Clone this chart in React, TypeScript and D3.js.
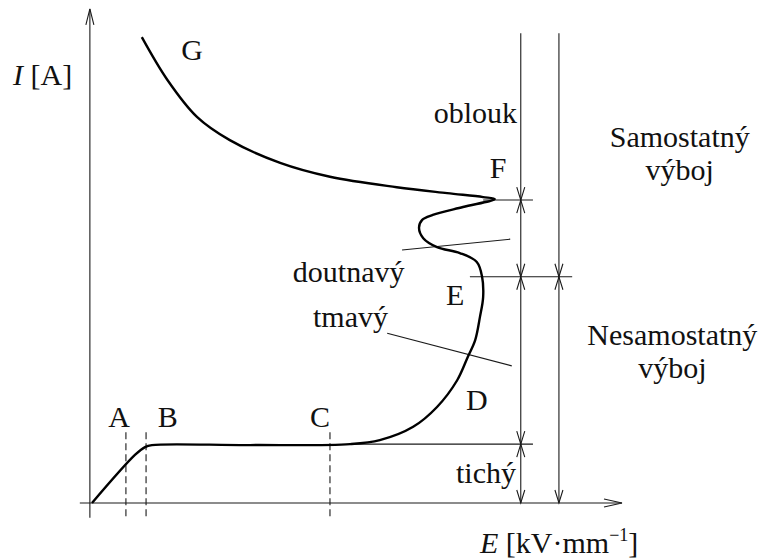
import React from "react";
import * as d3 from "d3";

// Volt-ampere characteristic of a gas discharge (schematic)
const W = 761;
const H = 559;

// Characteristic curve: field strength E and current I (relative units 0–100)
const curveE = [0, 8.1, 10.0, 11.3, 29.8, 48.7, 54.3, 60.6, 65.1, 68.9, 70.9, 72.3, 73.2, 73.8, 73.6, 72.6, 69.4, 65.1, 62.5, 61.7, 62.3, 64.3, 70.0, 76.0, 73.8, 67.0, 57.5, 44.9, 35.5, 26.0, 19.8, 14.2, 9.4];
const curveI = [0, 9.7, 11.3, 11.7, 11.7, 11.9, 12.7, 15.4, 19.4, 24.8, 29.5, 32.9, 37.6, 41.6, 45.7, 48.7, 50.5, 51.7, 53.5, 55.6, 57.2, 58.2, 59.8, 61.4, 61.8, 62.6, 63.8, 65.9, 68.7, 73.3, 78.0, 85.5, 94.1];

// Dashed markers A, B, C
const markerNames = ["A", "B", "C"];
const markerE = [6.4, 10.2, 44.9];
const markerLabelE = [5.1, 14.3, 43.0];
const markerTop = 14.3;
const markerBottom = -3.0;

// Region boundaries (current levels) and the dimension lines
const levelF = 61.2;
const levelE = 45.7;
const levelTichy = 11.9;
const dimTop = 94.9;
const dimInnerE = 80.9;
const dimOuterE = 88.1;

// Point labels
const pointNames = ["G", "F", "E", "D"];
const pointE = [18.9, 76.6, 68.5, 72.6];
const pointI = [89.5, 65.7, 40.0, 18.8];

// Region labels
const regionNames = ["oblouk", "doutnavý", "tmavý", "tichý"];
const regionE = [80.2, 37.9, 41.7, 80.0];
const regionI = [76.8, 44.6, 35.6, 4.0];
const regionAnchor = ["end", "start", "start", "end"];

// Group labels on the right
const groupLines = [["Samostatný", "výboj"], ["Nesamostatný", "výboj"]];
const groupE = [110.9, 109.5];
const groupI = [[71.9, 65.3], [31.9, 25.3]];

// Leader lines for doutnavý / tmavý
const leaderFrom = [[58.5, 51.1], [55.7, 34.3]];
const leaderTo = [[78.9, 53.3], [79.2, 27.7]];

const x = d3.scaleLinear().domain([0, 100]).range([92, 622]);
const y = d3.scaleLinear().domain([0, 100]).range([503, 8]);

const FONT = "Liberation Serif, DejaVu Serif, Times New Roman, serif";
const INK = "#1a1a1a";

function arrowHead(tx: number, ty: number, dx: number, dy: number, len = 13, half = 4) {
  const px = -dy;
  const py = dx;
  const bx = tx - dx * len;
  const by = ty - dy * len;
  return `M${bx + px * half},${by + py * half}L${tx},${ty}L${bx - px * half},${by - py * half}`;
}

export default function App() {
  const pts: [number, number][] = curveE.map((e, i) => [x(e), y(curveI[i])]);
  const line = d3.line().curve(d3.curveCatmullRom.alpha(0.5));
  const curvePath = line(pts) || "";

  const thin = { stroke: INK, strokeWidth: 1.1, fill: "none" } as const;
  const heads: string[] = [];
  // inner dimension line: boundaries F, E, tichý, plus bottom
  [levelF, levelE, levelTichy].forEach((lv) => {
    heads.push(arrowHead(x(dimInnerE), y(lv), 0, 1));
    heads.push(arrowHead(x(dimInnerE), y(lv), 0, -1));
  });
  heads.push(arrowHead(x(dimInnerE), y(0), 0, 1));
  // outer dimension line: boundary E plus bottom
  heads.push(arrowHead(x(dimOuterE), y(levelE), 0, 1));
  heads.push(arrowHead(x(dimOuterE), y(levelE), 0, -1));
  heads.push(arrowHead(x(dimOuterE), y(0), 0, 1));
  // axis arrows
  heads.push(arrowHead(x(-0.4), y(99.8), 0, -1, 16, 4));
  heads.push(arrowHead(x(100), y(0), 1, 0, 18, 4));

  const txt = { fontFamily: FONT, fontSize: 30, fill: "#111" } as const;

  return (
    <svg width={W} height={H} style={{ position: "absolute", left: 0, top: 0, background: "#fff" }}>
      <rect width={W} height={H} fill="#fff" />
      {/* axes */}
      <line x1={x(-0.4)} y1={y(-3)} x2={x(-0.4)} y2={y(99.8)} {...thin} />
      <line x1={x(-2.3)} y1={y(0)} x2={x(100)} y2={y(0)} {...thin} />

      {/* dashed markers */}
      {markerE.map((e, i) => (
        <line key={"m" + i} x1={x(e)} y1={y(markerTop)} x2={x(e)} y2={y(markerBottom)}
          stroke={INK} strokeWidth={1.1} strokeDasharray="7 4" />
      ))}

      {/* boundary lines */}
      <line x1={x(48.7)} y1={y(levelTichy)} x2={x(83.2)} y2={y(levelTichy)} {...thin} />
      <line x1={x(73.8)} y1={y(levelF)} x2={x(83.2)} y2={y(levelF)} {...thin} />
      <line x1={x(71.3)} y1={y(levelE)} x2={x(90.6)} y2={y(levelE)} {...thin} />

      {/* dimension lines */}
      <line x1={x(dimInnerE)} y1={y(dimTop)} x2={x(dimInnerE)} y2={y(0)} {...thin} />
      <line x1={x(dimOuterE)} y1={y(dimTop)} x2={x(dimOuterE)} y2={y(0)} {...thin} />
      {heads.map((d, i) => (
        <path key={"h" + i} d={d} {...thin} />
      ))}

      {/* leader lines */}
      {leaderFrom.map((f, i) => (
        <line key={"l" + i} x1={x(f[0])} y1={y(f[1])} x2={x(leaderTo[i][0])} y2={y(leaderTo[i][1])} {...thin} />
      ))}

      {/* characteristic */}
      <path d={curvePath} fill="none" stroke="#000" strokeWidth={2.4} strokeLinejoin="round" />

      {markerNames.map((n, i) => (
        <text key={"mn" + i} style={txt} x={x(markerLabelE[i])} y={y(15.4)} textAnchor="middle">{n}</text>
      ))}
      {pointNames.map((n, i) => (
        <text key={"pn" + i} style={txt} x={x(pointE[i])} y={y(pointI[i])} textAnchor="middle">{n}</text>
      ))}
      {regionNames.map((n, i) => (
        <text key={"rn" + i} style={txt} x={x(regionE[i])} y={y(regionI[i])} textAnchor={regionAnchor[i]}>{n}</text>
      ))}
      {groupLines.map((g, i) =>
        g.map((t, j) => (
          <text key={"g" + i + j} style={txt} x={x(groupE[i])} y={y(groupI[i][j])} textAnchor="middle">{t}</text>
        ))
      )}
      <text style={txt} x={13} y={85}>
        <tspan fontStyle="italic">I</tspan>
        <tspan> [A]</tspan>
      </text>
      <text style={txt} x={480} y={553}>
        <tspan fontStyle="italic">E</tspan>
        <tspan> [kV·mm</tspan>
        <tspan fontSize={18} dy={-12}>−1</tspan>
        <tspan dy={12}>]</tspan>
      </text>
    </svg>
  );
}
